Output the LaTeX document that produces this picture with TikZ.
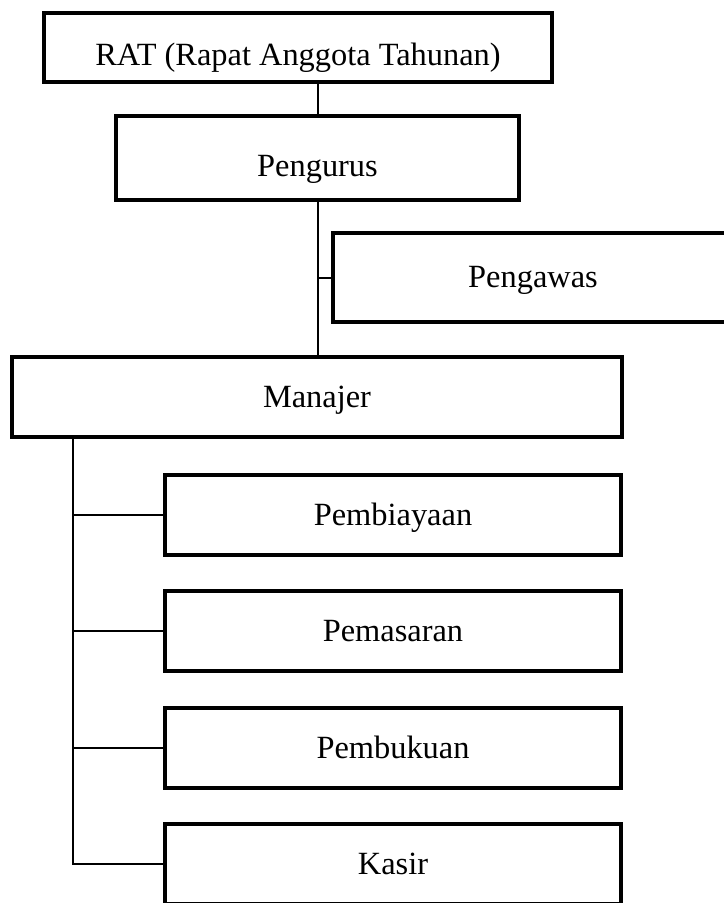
\documentclass[tikz,border=0pt]{standalone}
\usepackage{fontspec}
\setmainfont{Liberation Serif}
\usetikzlibrary{calc}
\begin{document}
\begin{tikzpicture}[x=0.75pt,y=-0.75pt,
  box/.style={draw=black,line width=2.4pt,fill=white,inner sep=0pt,
    text height=15.75pt,text depth=0pt,
    font=\fontsize{24.3}{28}\selectfont},
  conn/.style={draw=black,line width=1.5pt}]
\useasboundingbox (0,0) rectangle (724,903);
\clip (0,0) rectangle (724,903);
\fill[white] (0,0) rectangle (724,903);
\node[box,text height=26.25pt,minimum width=381pt,minimum height=51.75pt] (rat) at (298,47.5) {RAT (Rapat Anggota Tahunan)};
\node[box,text height=28pt,minimum width=302.25pt,minimum height=63pt] (pengurus) at (317.5,158) {Pengurus};
\node[box,text height=14.25pt,minimum width=300pt,minimum height=66.75pt] (pengawas) at (533,277.5) {Pengawas};
\node[box,minimum width=457.5pt,minimum height=60pt] (manajer) at (317,397) {Manajer};
\node[box,minimum width=342pt,minimum height=60pt] (pembiayaan) at (393,515) {Pembiayaan};
\node[box,minimum width=342pt,minimum height=60pt] (pemasaran) at (393,631) {Pemasaran};
\node[box,minimum width=342pt,minimum height=60pt] (pembukuan) at (393,748) {Pembukuan};
\node[box,minimum width=342pt,minimum height=60pt] (kasir) at (393,864) {Kasir};
\coordinate (trunk) at ($(manajer.south west)+(63,0)$);
\draw[conn] (pengurus.north) -- (pengurus.north |- rat.south);
\draw[conn] (pengurus.south) -- (pengurus.south |- manajer.north);
\draw[conn] (pengurus.south |- pengawas.west) -- (pengawas.west);
\draw[conn] (trunk) |- (kasir.west);
\draw[conn] (trunk |- pembiayaan.west) -- (pembiayaan.west);
\draw[conn] (trunk |- pemasaran.west) -- (pemasaran.west);
\draw[conn] (trunk |- pembukuan.west) -- (pembukuan.west);
\end{tikzpicture}
\end{document}
